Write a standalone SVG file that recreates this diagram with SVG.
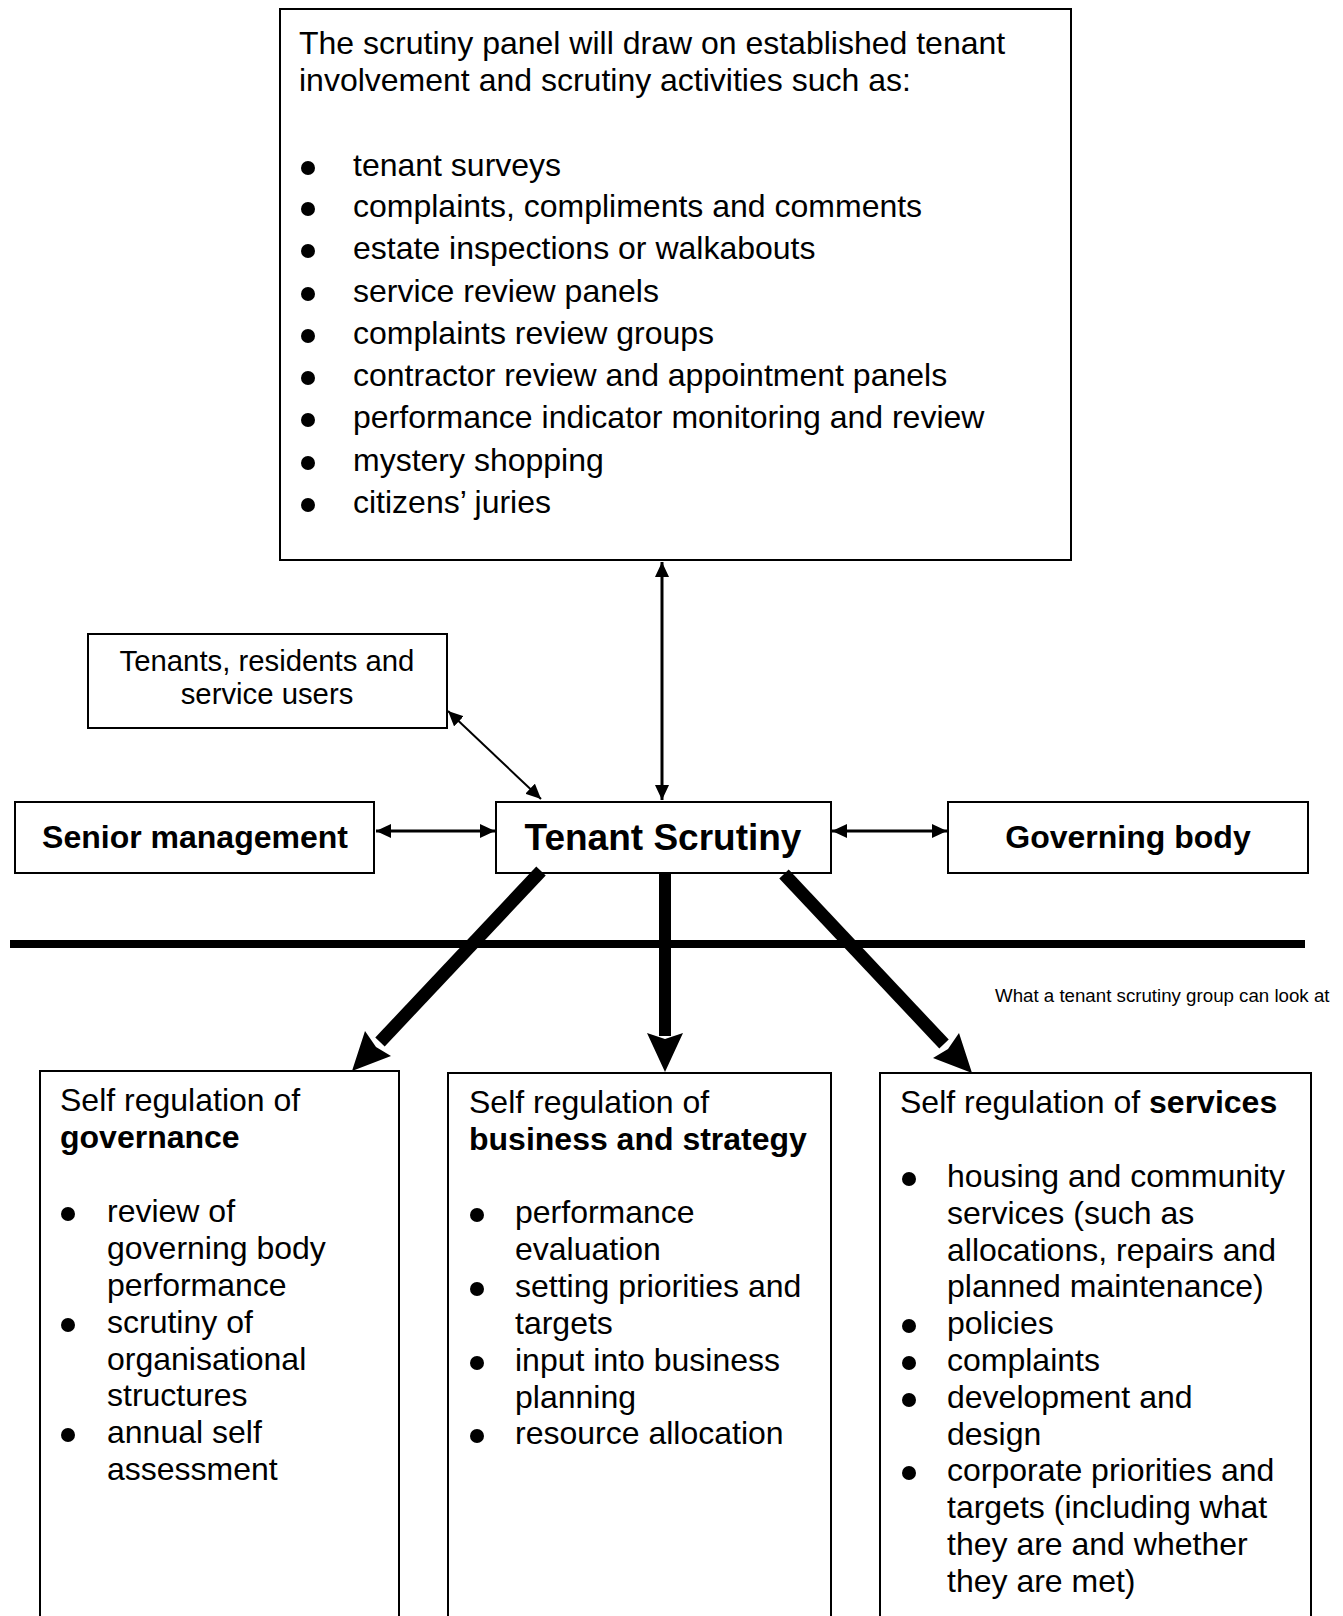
<svg xmlns="http://www.w3.org/2000/svg" width="1343" height="1616" viewBox="0 0 1343 1616">
<style>
text{font-family:"Liberation Sans",Arial,sans-serif;fill:#000}
.box{fill:#fff;stroke:#000;stroke-width:2}
.t32{font-size:32px}
.b32{font-size:32px;font-weight:bold}
.t29{font-size:29.3px}
.small{font-size:18.7px}
.mid{text-anchor:middle}
.thin{stroke:#000;fill:none}
.bul{fill:#000}
.thick{stroke:#000;fill:none;stroke-linecap:butt}
</style>
<defs>
<marker id="ah" markerUnits="userSpaceOnUse" viewBox="0 0 15 14" refX="15" refY="7" markerWidth="15" markerHeight="14" orient="auto-start-reverse">
<path d="M0,0 L15,7 L0,14 z" fill="#000"/>
</marker>
</defs>

<g id="node-panel">
<rect class="box" x="280" y="9" width="791" height="551"/>
<text class="t32" x="299" y="54">The scrutiny panel will draw on established tenant</text>
<text class="t32" x="299" y="91">involvement and scrutiny activities such as:</text>
<g class="bul">
<circle cx="308" cy="168" r="7"/><circle cx="308" cy="209" r="7"/><circle cx="308" cy="251" r="7"/>
<circle cx="308" cy="294" r="7"/><circle cx="308" cy="336" r="7"/><circle cx="308" cy="378" r="7"/>
<circle cx="308" cy="420" r="7"/><circle cx="308" cy="463" r="7"/><circle cx="308" cy="505" r="7"/>
</g>
<text class="t32" x="353" y="176">tenant surveys</text>
<text class="t32" x="353" y="217">complaints, compliments and comments</text>
<text class="t32" x="353" y="259">estate inspections or walkabouts</text>
<text class="t32" x="353" y="302">service review panels</text>
<text class="t32" x="353" y="344">complaints review groups</text>
<text class="t32" x="353" y="386">contractor review and appointment panels</text>
<text class="t32" x="353" y="428">performance indicator monitoring and review</text>
<text class="t32" x="353" y="471">mystery shopping</text>
<text class="t32" x="353" y="513">citizens’ juries</text>
</g>

<g id="node-tenants">
<rect class="box" x="88" y="634" width="359" height="94"/>
<text class="t29 mid" x="267" y="671">Tenants, residents and</text>
<text class="t29 mid" x="267" y="704">service users</text>
</g>

<g id="node-senior">
<rect class="box" x="15" y="802" width="359" height="71"/>
<text class="b32 mid" x="195" y="848">Senior management</text>
</g>

<g id="node-scrutiny">
<rect class="box" x="496" y="802" width="335" height="71"/>
<text class="mid" x="663" y="850" style="font-size:37px;font-weight:bold">Tenant Scrutiny</text>
</g>

<g id="node-governing">
<rect class="box" x="948" y="802" width="360" height="71"/>
<text class="b32 mid" x="1128" y="848">Governing body</text>
</g>

<g id="divider">
<line x1="10" y1="944" x2="1305" y2="944" stroke="#000" stroke-width="8"/>
<text class="small" x="995" y="1002">What a tenant scrutiny group can look at</text>
</g>

<g id="node-governance">
<rect class="box" x="40" y="1071" width="359" height="600"/>
<text class="t32" x="60" y="1111">Self regulation of</text>
<text class="b32" x="60" y="1148">governance</text>
<g class="bul">
<circle cx="68" cy="1214" r="7"/><circle cx="68" cy="1325" r="7"/><circle cx="68" cy="1435" r="7"/>
</g>
<text class="t32" x="107" y="1222">review of</text>
<text class="t32" x="107" y="1259">governing body</text>
<text class="t32" x="107" y="1296">performance</text>
<text class="t32" x="107" y="1333">scrutiny of</text>
<text class="t32" x="107" y="1370">organisational</text>
<text class="t32" x="107" y="1406">structures</text>
<text class="t32" x="107" y="1443">annual self</text>
<text class="t32" x="107" y="1480">assessment</text>
</g>

<g id="node-business">
<rect class="box" x="448" y="1073" width="383" height="600"/>
<text class="t32" x="469" y="1113">Self regulation of</text>
<text class="b32" x="469" y="1150">business and strategy</text>
<g class="bul">
<circle cx="477" cy="1215" r="7"/><circle cx="477" cy="1289" r="7"/><circle cx="477" cy="1363" r="7"/><circle cx="477" cy="1436" r="7"/>
</g>
<text class="t32" x="515" y="1223">performance</text>
<text class="t32" x="515" y="1260">evaluation</text>
<text class="t32" x="515" y="1297">setting priorities and</text>
<text class="t32" x="515" y="1334">targets</text>
<text class="t32" x="515" y="1371">input into business</text>
<text class="t32" x="515" y="1408">planning</text>
<text class="t32" x="515" y="1444">resource allocation</text>
</g>

<g id="node-services">
<rect class="box" x="880" y="1073" width="431" height="600"/>
<text class="t32" x="900" y="1113">Self regulation of <tspan font-weight="bold">services</tspan></text>
<g class="bul">
<circle cx="909" cy="1179" r="7"/><circle cx="909" cy="1326" r="7"/><circle cx="909" cy="1363" r="7"/><circle cx="909" cy="1400" r="7"/><circle cx="909" cy="1473" r="7"/>
</g>
<text class="t32" x="947" y="1187">housing and community</text>
<text class="t32" x="947" y="1224">services (such as</text>
<text class="t32" x="947" y="1261">allocations, repairs and</text>
<text class="t32" x="947" y="1297">planned maintenance)</text>
<text class="t32" x="947" y="1334">policies</text>
<text class="t32" x="947" y="1371">complaints</text>
<text class="t32" x="947" y="1408">development and</text>
<text class="t32" x="947" y="1445">design</text>
<text class="t32" x="947" y="1481">corporate priorities and</text>
<text class="t32" x="947" y="1518">targets (including what</text>
<text class="t32" x="947" y="1555">they are and whether</text>
<text class="t32" x="947" y="1592">they are met)</text>
</g>

<g id="connectors">
<line class="thin" x1="662" y1="562" x2="662" y2="800" stroke-width="3" marker-start="url(#ah)" marker-end="url(#ah)"/>
<line class="thin" x1="376" y1="831" x2="495" y2="831" stroke-width="3" marker-start="url(#ah)" marker-end="url(#ah)"/>
<line class="thin" x1="832" y1="831" x2="947" y2="831" stroke-width="3" marker-start="url(#ah)" marker-end="url(#ah)"/>
<line class="thin" x1="448" y1="711" x2="541" y2="799" stroke-width="2" marker-start="url(#ah)" marker-end="url(#ah)"/>
<line class="thick" x1="541" y1="871" x2="380" y2="1042" stroke-width="13"/>
<polygon points="352,1071 365,1031 376,1047 391,1056" fill="#000"/>
<line class="thick" x1="665" y1="873" x2="665" y2="1036" stroke-width="12"/>
<polygon points="665,1072 647,1033 665,1039 683,1033" fill="#000"/>
<line class="thick" x1="784" y1="874" x2="944" y2="1044" stroke-width="13"/>
<polygon points="972,1073 933,1058 948,1049 959,1033" fill="#000"/>
</g>
</svg>
